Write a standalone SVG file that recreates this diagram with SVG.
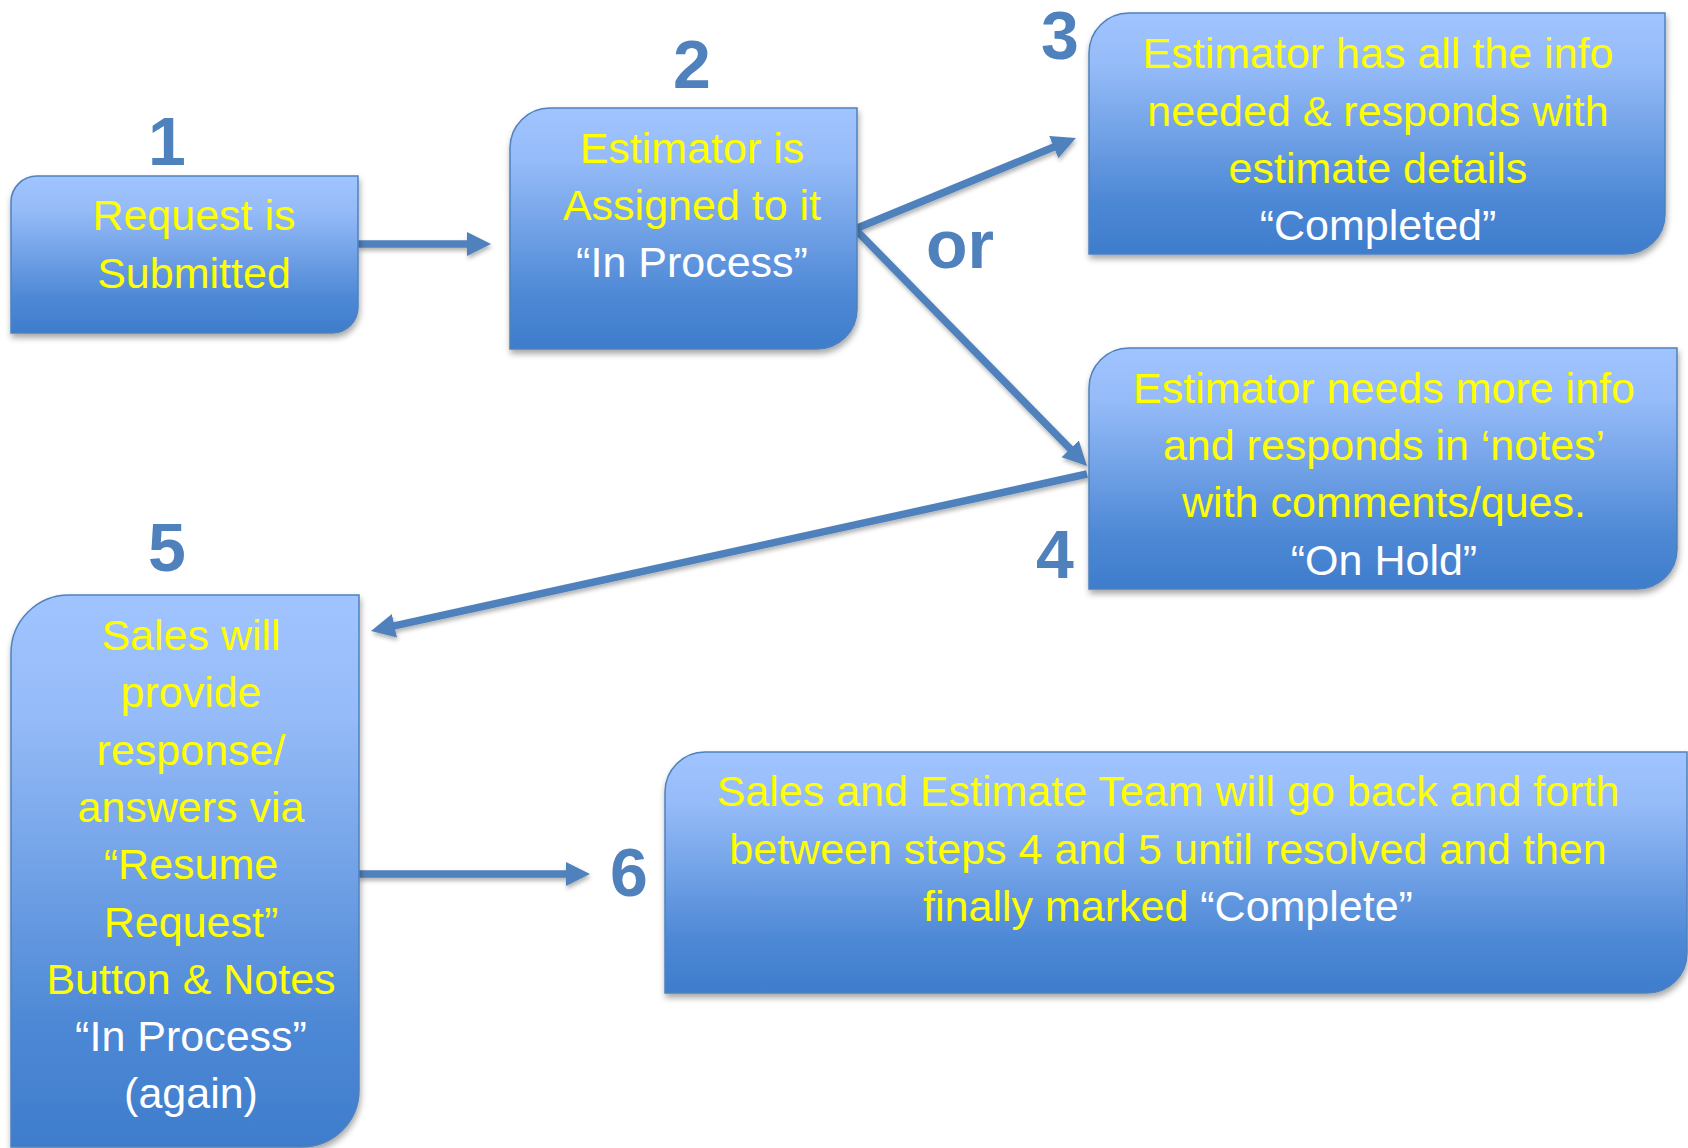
<svg xmlns="http://www.w3.org/2000/svg" width="1688" height="1148" viewBox="0 0 1688 1148">
  <defs>
    <linearGradient id="boxGrad" x1="0" y1="0" x2="0" y2="1">
      <stop offset="0" stop-color="#A0C4FF"/>
      <stop offset="0.22" stop-color="#95BBF8"/>
      <stop offset="0.78" stop-color="#4D88D5"/>
      <stop offset="1" stop-color="#3E7DCC"/>
    </linearGradient>
    <filter id="shadow" x="-10%" y="-10%" width="120%" height="130%">
      <feDropShadow dx="1" dy="4" stdDeviation="3" flood-color="#000000" flood-opacity="0.35"/>
    </filter>
    <filter id="lineShadow" x="-10%" y="-10%" width="120%" height="130%">
      <feDropShadow dx="1" dy="3" stdDeviation="2" flood-color="#000000" flood-opacity="0.3"/>
    </filter>
    <marker id="arrow" markerUnits="userSpaceOnUse" markerWidth="26" markerHeight="26" refX="6" refY="12" orient="auto">
      <path d="M0,0 L24,12 L0,24 Z" fill="#4F81BD"/>
    </marker>
  </defs>
  <style>
    .box { fill: url(#boxGrad); stroke: #4F81BD; stroke-width: 1.5; filter: url(#shadow); }
    .txt { font-family: "Liberation Sans", Arial, sans-serif; font-size: 43px; text-anchor: middle; fill: #FFFF00; }
    .w { fill: #FFFFFF; }
    .num { font-family: "Liberation Sans", Arial, sans-serif; font-weight: bold; font-size: 68px; text-anchor: middle; fill: #4F81BD; }
    .conn { stroke: #4F81BD; stroke-width: 7.5; fill: none; marker-end: url(#arrow); }
  </style>
  <rect x="0" y="0" width="1688" height="1148" fill="#FFFFFF"/>

  <g id="connectors" filter="url(#lineShadow)">
    <line class="conn" x1="358" y1="244" x2="473" y2="244"/>
    <line class="conn" x1="855" y1="229" x2="1059.3" y2="144.8"/>
    <line class="conn" x1="855" y1="229" x2="1074.4" y2="453.1"/>
    <line class="conn" x1="1087" y1="474" x2="388.6" y2="627.1"/>
    <line class="conn" x1="358" y1="874" x2="572" y2="874"/>
  </g>

  <g id="node1">
    <path class="box" d="M37,176 H358 V307 A26,26 0 0 1 332,333 H11 V202 A26,26 0 0 1 37,176 Z"/>
    <text class="txt" x="194"><tspan x="194" y="230">Request is</tspan><tspan x="194" y="288">Submitted</tspan></text>
    <text class="num" x="167" y="165">1</text>
  </g>

  <g id="node2">
    <path class="box" d="M550,108 H857 V309 A40,40 0 0 1 817,349 H510 V148 A40,40 0 0 1 550,108 Z"/>
    <text class="txt"><tspan x="692" y="163">Estimator is</tspan><tspan x="692" y="220">Assigned to it</tspan><tspan class="w" x="692" y="277">“In Process”</tspan></text>
    <text class="num" x="692" y="88">2</text>
  </g>

  <g id="node3">
    <path class="box" d="M1129,13 H1665 V214 A40,40 0 0 1 1625,254 H1089 V53 A40,40 0 0 1 1129,13 Z"/>
    <text class="txt"><tspan x="1378" y="68">Estimator has all the info</tspan><tspan x="1378" y="126">needed &amp; responds with</tspan><tspan x="1378" y="183">estimate details</tspan><tspan class="w" x="1378" y="240">“Completed”</tspan></text>
    <text class="num" x="1060" y="59">3</text>
  </g>

  <text id="or-label" class="num" x="960" y="268" style="font-size:68px">or</text>

  <g id="node4">
    <path class="box" d="M1129,348 H1677 V549 A40,40 0 0 1 1637,589 H1089 V388 A40,40 0 0 1 1129,348 Z"/>
    <text class="txt"><tspan x="1384" y="403">Estimator needs more info</tspan><tspan x="1384" y="460">and responds in ‘notes’</tspan><tspan x="1384" y="517">with comments/ques.</tspan><tspan class="w" x="1384" y="575">“On Hold”</tspan></text>
    <text class="num" x="1055" y="578">4</text>
  </g>

  <g id="node5">
    <path class="box" d="M69,595 H359 V1090 A57,57 0 0 1 302,1147 H11 V653 A58,58 0 0 1 69,595 Z"/>
    <text class="txt"><tspan x="191" y="650">Sales will</tspan><tspan x="191" y="707.3">provide</tspan><tspan x="191" y="764.6">response/</tspan><tspan x="191" y="821.9">answers via</tspan><tspan x="191" y="879.2">“Resume</tspan><tspan x="191" y="936.5">Request”</tspan><tspan x="191" y="993.8">Button &amp; Notes</tspan><tspan class="w" x="191" y="1051.1">“In Process”</tspan><tspan class="w" x="191" y="1108.4">(again)</tspan></text>
    <text class="num" x="167" y="571">5</text>
  </g>

  <g id="node6">
    <path class="box" d="M705,752 H1687 V953 A40,40 0 0 1 1647,993 H665 V792 A40,40 0 0 1 705,752 Z"/>
    <text class="txt"><tspan x="1168" y="806">Sales and Estimate Team will go back and forth</tspan><tspan x="1168" y="863.5">between steps 4 and 5 until resolved and then</tspan><tspan x="1168" y="921">finally marked <tspan class="w">“Complete”</tspan></tspan></text>
    <text class="num" x="629" y="896">6</text>
  </g>
</svg>
